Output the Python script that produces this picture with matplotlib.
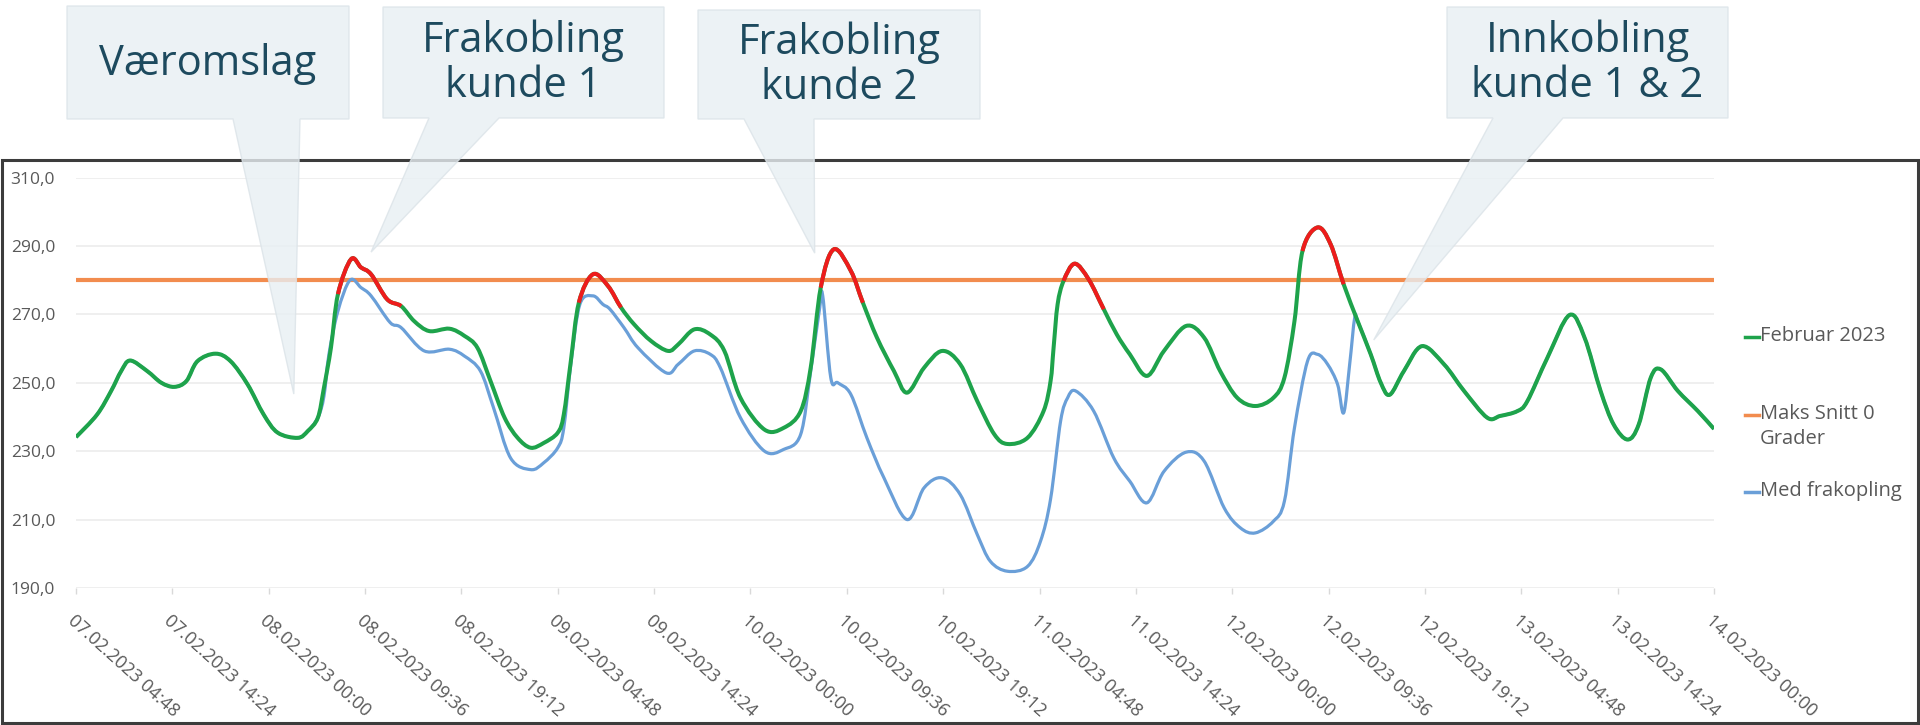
import numpy as np
import matplotlib
matplotlib.use("Agg")
import matplotlib.pyplot as plt
from matplotlib.patches import Polygon, Rectangle, PathPatch
from matplotlib.path import Path
from matplotlib.lines import Line2D

plt.rcParams['font.family'] = ['Open Sans', 'DejaVu Sans']

# hours after 07.02.2023 04:48
feb_t = [0.0, 2.1, 3.5, 4.5, 5.4, 7.1, 8.5, 9.8, 11.0, 12.1, 13.9, 15.4, 17.1, 18.7,
         20.1, 22.1, 23.1, 24.1, 24.7, 25.4, 26.1, 27.4, 28.4, 29.4, 31.0, 32.4,
         33.7, 35.2, 37.2, 38.7, 40.0, 41.3, 42.7, 44.0, 45.3, 46.6, 48.0, 48.6,
         49.3, 50.1, 51.5, 53.0, 54.3, 55.6, 57.3, 59.0, 60.0, 61.6, 63.2, 64.6,
         66.2, 68.6, 70.5, 72.2, 73.2, 74.2, 75.5, 77.2, 78.4, 79.8, 81.5, 82.8,
         84.5, 86.3, 88.1, 89.8, 91.5, 92.8, 94.8, 96.4, 97.1, 97.4, 97.8, 98.4,
         99.5, 100.9, 102.4, 103.7, 105.0, 106.7, 108.4, 110.6, 112.4, 114.0,
         115.7, 117.5, 119.3, 120.4, 121.4, 122.2, 123.7, 125.0, 126.3, 127.7,
         129.0, 130.0, 130.9, 132.3, 134.1, 136.3, 138.3, 140.6, 141.9, 143.6,
         144.6, 146.6, 148.8, 150.3, 151.9, 153.2, 154.6, 155.7, 156.9, 157.9,
         159.6, 161.6, 163.2]
feb_v = [234.1, 240.7, 247.6, 253.4, 256.5, 253.4, 250.0, 248.8, 250.5, 256.3, 258.5,
         256.3, 249.5, 240.7, 235.4, 233.9, 235.9, 239.8, 248.5, 260.2, 275.9, 286.1,
         283.7, 281.7, 274.4, 272.4, 268.0, 265.1, 265.8, 263.7, 260.2, 250.5, 239.8,
         233.9, 231.0, 232.4, 235.4, 240.7, 256.3, 273.4, 281.7, 278.3, 272.0, 267.1,
         262.2, 259.3, 261.2, 265.6, 264.1, 259.3, 245.6, 236.3, 236.8, 241.7, 254.4,
         277.8, 289.0, 282.7, 273.4, 263.2, 253.4, 247.1, 254.4, 259.3, 255.4, 244.6,
         234.9, 232.1, 233.9, 241.7, 250.5, 260.2, 272.9, 279.8, 284.8, 280.2, 271.5,
         264.1, 258.3, 252.0, 259.3, 266.6, 263.2, 253.4, 245.6, 243.2, 245.6, 251.5,
         268.0, 288.5, 295.4, 290.5, 278.8, 268.0, 258.3, 250.0, 246.5, 253.4, 260.7,
         255.4, 247.6, 239.8, 240.3, 241.7, 244.6, 257.3, 269.8, 263.2, 247.6, 237.8,
         233.4, 237.8, 251.5, 253.9, 247.6, 241.7, 236.5]

# "Med frakopling" while customers are disconnected (equals Februar 2023 outside)
frak_t = [24.7, 25.2, 26.1, 27.3, 28.4, 29.4, 31.3, 32.4, 34.7, 37.2, 38.7, 40.3,
          41.6, 43.3, 45.3, 46.6, 48.0, 48.6, 49.3, 50.2, 51.5, 52.5, 53.2, 54.6,
          56.0, 58.8, 60.0, 61.6, 63.2, 64.2, 66.2, 68.6, 70.5, 72.2, 73.2, 74.1,
          74.4, 75.2, 75.9, 77.2, 78.8, 80.5, 82.8, 84.5, 86.3, 88.1, 89.8, 91.1,
          92.8, 94.8, 96.1, 97.1, 98.1, 98.8, 99.6, 101.4, 103.4, 105.0, 106.7,
          108.4, 110.6, 112.4, 114.4, 116.0, 117.5, 119.3, 120.4, 121.4, 122.7,
          123.7, 124.7, 125.7, 126.3, 126.9, 127.4]
frak_v = [246.0, 258.3, 271.0, 280.0, 277.8, 275.4, 267.6, 266.1, 259.3, 259.8, 257.8,
          253.4, 242.7, 228.0, 224.6, 226.6, 231.0, 236.8, 255.4, 272.9, 275.4, 272.9,
          271.5, 266.1, 260.2, 252.9, 255.4, 259.3, 258.3, 254.4, 239.8, 230.0, 230.5,
          234.9, 253.4, 272.0, 275.4, 251.5, 250.0, 246.6, 233.9, 222.2, 210.0, 219.3,
          222.2, 217.3, 205.6, 197.8, 194.9, 196.3, 203.7, 216.0, 238.8, 245.6, 247.6,
          241.7, 228.0, 221.2, 214.9, 224.1, 229.7, 227.1, 213.4, 207.6, 206.1, 209.5,
          215.4, 236.8, 256.3, 258.3, 255.4, 249.5, 241.2, 255.4, 269.0]

maks_snitt = 280.0
# periods where Februar 2023 is marked red (over the limit)
overlast = [(26.1, 32.4), (50.1, 54.3), (74.2, 78.4), (98.4, 102.4), (122.2, 126.3)]

tick_labels = ["07.02.2023 04:48", "07.02.2023 14:24", "08.02.2023 00:00",
               "08.02.2023 09:36", "08.02.2023 19:12", "09.02.2023 04:48",
               "09.02.2023 14:24", "10.02.2023 00:00", "10.02.2023 09:36",
               "10.02.2023 19:12", "11.02.2023 04:48", "11.02.2023 14:24",
               "12.02.2023 00:00", "12.02.2023 09:36", "12.02.2023 19:12",
               "13.02.2023 04:48", "13.02.2023 14:24", "14.02.2023 00:00"]
y_ticks = [190, 210, 230, 250, 270, 290, 310]

callout_text = ["Væromslag", "Frakobling\nkunde 1", "Frakobling\nkunde 2",
                "Innkobling\nkunde 1 & 2"]
callout_tip = [(21.7, 246.7), (29.4, 288.2), (73.6, 287.9), (129.3, 262.5)]

feb_t = np.array(feb_t)
feb_v = np.array(feb_v)
before = feb_t <= 24.1
after = feb_t >= 127.7
med_t = np.concatenate([feb_t[before], frak_t, feb_t[after]])
med_v = np.concatenate([feb_v[before], frak_v, feb_v[after]])


def smooth_path(t, v, i0=0, i1=None):
    # Excel-style smoothed line: bezier segments through the points i0..i1
    p = np.column_stack([t, v])
    n = len(p)
    if i1 is None:
        i1 = n - 1
    verts = [p[i0]]
    codes = [Path.MOVETO]
    for i in range(i0, i1):
        a = p[max(i - 1, 0)]
        b = p[i]
        c = p[i + 1]
        d = p[min(i + 2, n - 1)]
        verts += [b + (c - a) / 6, c - (d - b) / 6, c]
        codes += [Path.CURVE4] * 3
    return Path(verts, codes)


W, H = 1920, 725
fig = plt.figure(figsize=(W / 100, H / 100), dpi=100)
ax = fig.add_axes([76 / W, 1 - 588 / H, (1714 - 76) / W, (588 - 177.5) / H])

ax.add_patch(PathPatch(smooth_path(med_t, med_v), fill=False, edgecolor='#6a9fd8',
                       lw=2.3, zorder=3, joinstyle='round'))
ax.add_patch(PathPatch(smooth_path(feb_t, feb_v), fill=False, edgecolor='#1ea34b',
                       lw=2.9, zorder=4, joinstyle='round'))
for a, b in overlast:
    idx = np.where((feb_t >= a) & (feb_t <= b))[0]
    ax.add_patch(PathPatch(smooth_path(feb_t, feb_v, idx[0], idx[-1]), fill=False,
                           edgecolor='#ee1c1c', lw=2.9, zorder=5, capstyle='butt'))
ax.axhline(maks_snitt, color='#f28c4e', lw=3, zorder=2)

ax.set_xlim(0, 163.2)
ax.set_ylim(190, 310)
ax.set_yticks(y_ticks)
ax.set_yticklabels([f"{v:.1f}".replace('.', ',') for v in y_ticks])
ax.set_xticks(np.arange(len(tick_labels)) * 9.6)
ax.set_xticklabels(tick_labels, rotation=-42, ha='left', va='top',
                   rotation_mode='anchor')
ax.tick_params(axis='y', length=0, pad=15, labelsize=12.5, labelcolor='#595959')
ax.tick_params(axis='x', length=4, width=1, color='#d9d9d9', pad=13,
               labelsize=13, labelcolor='#595959')
ax.yaxis.grid(True, color='#eeeeee', lw=1.3)
ax.set_axisbelow(True)
for s in ax.spines.values():
    s.set_visible(False)

# overlay in pixel coords for frame, callouts and legend
ov = fig.add_axes([0, 0, 1, 1])
ov.set_xlim(0, W)
ov.set_ylim(H, 0)
ov.axis('off')
ov.patch.set_alpha(0)

ov.add_patch(Rectangle((1.5, 160), W - 4, H - 162, fill=False,
                       edgecolor='#3c3c3c', lw=2.2))

boxes = [(67, 349, 6, 119, 233, 300), (383, 664, 7, 118, 429, 499),
         (698, 980, 10, 119, 744, 814), (1447, 1728, 7, 118, 1493, 1563)]
to_px = ov.transData.inverted()
for text, tip, (x0, x1, y0, y1, bl, br) in zip(callout_text, callout_tip, boxes):
    tx, ty = to_px.transform(ax.transData.transform(tip))
    pts = [(x0, y0), (x1, y0), (x1, y1), (br, y1), (tx, ty), (bl, y1), (x0, y1)]
    ov.add_patch(Polygon(pts, closed=True, facecolor='#e8eff3', alpha=0.8,
                         edgecolor='#dbe3e8', lw=1))
    ov.text((x0 + x1) / 2, (y0 + y1) / 2 + 1, text, ha='center', va='center',
            fontsize=30, color='#1d4a5e', linespacing=1.1)

legend_items = [("Februar 2023", '#1ea34b', 337),
                ("Maks Snitt 0\nGrader", '#f28c4e', 415),
                ("Med frakopling", '#6a9fd8', 492)]
for label, col, y in legend_items:
    ov.add_line(Line2D([1745, 1759], [y, y], color=col, lw=2.5))
    ov.text(1760, y - 11, label, ha='left', va='top', fontsize=14.5,
            color='#595959', linespacing=1.3)

fig.savefig("out.png", dpi=100)
